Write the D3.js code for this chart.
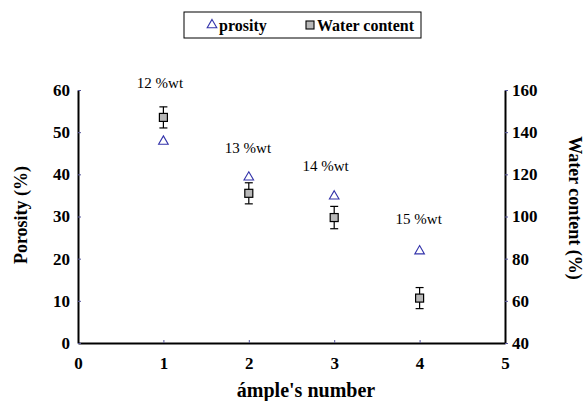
<!DOCTYPE html>
<html>
<head>
<meta charset="utf-8">
<script src="https://cdn.jsdelivr.net/npm/d3@7"></script>
<style>
body { margin: 0; background: #fff; }
</style>
</head>
<body>
<script>
var w = 585,
    h = 401;
var serif = "'Liberation Serif', 'Times New Roman', serif";

// data
var samples = [1, 2, 3, 4];
var porosity = [47.8, 39.3, 34.8, 21.8];
var water = [147, 111, 99.5, 61.3];
var waterErr = [5, 5, 5.3, 5];
var labels = ["12 %wt", "13 %wt", "14 %wt", "15 %wt"];
var labelX = [0.96, 1.99, 2.9, 3.99];       // sample units
var labelY = [60.5, 45.1, 40.8, 28.2];      // porosity units
var xTicks = [0, 1, 2, 3, 4, 5];
var leftTicks = [0, 10, 20, 30, 40, 50, 60];
var rightTicks = [40, 60, 80, 100, 120, 140, 160];

var svg = d3.select("body")
    .append("svg")
    .attr("width", w)
    .attr("height", h);

var x = d3.scaleLinear().domain([0, 5]).range([78, 505]);
var yL = d3.scaleLinear().domain([0, 60]).range([343, 90]);
var yR = d3.scaleLinear().domain([40, 160]).range([343, 90]);

// axes
var xAxis = d3.axisBottom(x).tickValues(xTicks).tickFormat(d3.format("d"))
    .tickSizeInner(-3).tickSizeOuter(0).tickPadding(14);
var leftAxis = d3.axisLeft(yL).tickValues(leftTicks).tickFormat(d3.format("d"))
    .tickSizeInner(-3).tickSizeOuter(0).tickPadding(8);
var rightAxis = d3.axisRight(yR).tickValues(rightTicks).tickFormat(d3.format("d"))
    .tickSizeInner(3).tickSizeOuter(0).tickPadding(4);

function styleAxis(g) {
    g.select(".domain").attr("stroke", "#000").attr("stroke-width", 2);
    g.selectAll(".tick line").attr("stroke", "#55559a").attr("stroke-width", 1);
    g.selectAll(".tick text")
        .attr("fill", "#000")
        .style("font-family", serif)
        .style("font-size", "17px")
        .style("font-weight", "bold");
}

svg.append("g").attr("transform", "translate(0,343)").call(xAxis).call(styleAxis);
svg.append("g").attr("transform", "translate(78,0)").call(leftAxis).call(styleAxis);
svg.append("g").attr("transform", "translate(505,0)").call(rightAxis).call(styleAxis);

// axis titles
svg.append("text")
    .attr("x", 306).attr("y", 397)
    .attr("text-anchor", "middle")
    .style("font-family", serif)
    .style("font-size", "20px").style("font-weight", "bold")
    .text("ámple's number");

svg.append("text")
    .attr("transform", "translate(27,215) rotate(-90)")
    .attr("text-anchor", "middle")
    .style("font-family", serif)
    .style("font-size", "18px").style("font-weight", "bold")
    .text("Porosity (%)");

svg.append("text")
    .attr("transform", "translate(569,208) rotate(90)")
    .attr("text-anchor", "middle")
    .style("font-family", serif)
    .style("font-size", "18px").style("font-weight", "bold")
    .text("Water content (%)");

// annotations
svg.selectAll(".note")
    .data(labels)
    .enter()
    .append("text")
    .attr("class", "note")
    .attr("x", function (d, i) { return x(labelX[i]); })
    .attr("y", function (d, i) { return yL(labelY[i]); })
    .attr("text-anchor", "middle")
    .style("font-family", serif)
    .style("font-size", "15px")
    .text(function (d) { return d; });

// error bars
var eb = svg.selectAll(".err")
    .data(water)
    .enter()
    .append("g")
    .attr("class", "err")
    .attr("stroke", "#000")
    .attr("stroke-width", 1.2);

eb.append("line")
    .attr("x1", function (d, i) { return x(samples[i]); })
    .attr("x2", function (d, i) { return x(samples[i]); })
    .attr("y1", function (d, i) { return yR(d + waterErr[i]); })
    .attr("y2", function (d, i) { return yR(d - waterErr[i]); });
eb.append("line")
    .attr("x1", function (d, i) { return x(samples[i]) - 4; })
    .attr("x2", function (d, i) { return x(samples[i]) + 4; })
    .attr("y1", function (d, i) { return yR(d + waterErr[i]); })
    .attr("y2", function (d, i) { return yR(d + waterErr[i]); });
eb.append("line")
    .attr("x1", function (d, i) { return x(samples[i]) - 4; })
    .attr("x2", function (d, i) { return x(samples[i]) + 4; })
    .attr("y1", function (d, i) { return yR(d - waterErr[i]); })
    .attr("y2", function (d, i) { return yR(d - waterErr[i]); });

// water squares
svg.selectAll(".sq")
    .data(water)
    .enter()
    .append("rect")
    .attr("class", "sq")
    .attr("x", function (d, i) { return x(samples[i]) - 4; })
    .attr("y", function (d) { return yR(d) - 4; })
    .attr("width", 8)
    .attr("height", 8)
    .attr("fill", "#b8b8b8")
    .attr("stroke", "#000")
    .attr("stroke-width", 1.2);

// porosity triangles
var tri = d3.symbol().type(d3.symbolTriangle).size(40);
svg.selectAll(".tri")
    .data(porosity)
    .enter()
    .append("path")
    .attr("class", "tri")
    .attr("transform", function (d, i) { return "translate(" + x(samples[i]) + "," + yL(d) + ")"; })
    .attr("d", tri)
    .attr("fill", "none")
    .attr("stroke", "#3333aa")
    .attr("stroke-width", 1.1);

// legend
var leg = svg.append("g");
leg.append("rect")
    .attr("x", 184).attr("y", 12)
    .attr("width", 237).attr("height", 26)
    .attr("fill", "#fff").attr("stroke", "#000").attr("stroke-width", 1);
leg.append("path")
    .attr("transform", "translate(212,25)")
    .attr("d", tri)
    .attr("fill", "none").attr("stroke", "#3333aa").attr("stroke-width", 1.1);
leg.append("text")
    .attr("x", 219).attr("y", 31)
    .style("font-family", serif)
    .style("font-size", "16px").style("font-weight", "bold")
    .text("prosity");
leg.append("rect")
    .attr("x", 306).attr("y", 21).attr("width", 8).attr("height", 8)
    .attr("fill", "#b8b8b8").attr("stroke", "#000").attr("stroke-width", 1.1);
leg.append("text")
    .attr("x", 317).attr("y", 31)
    .style("font-family", serif)
    .style("font-size", "16px").style("font-weight", "bold")
    .text("Water content");
</script>
</body>
</html>
